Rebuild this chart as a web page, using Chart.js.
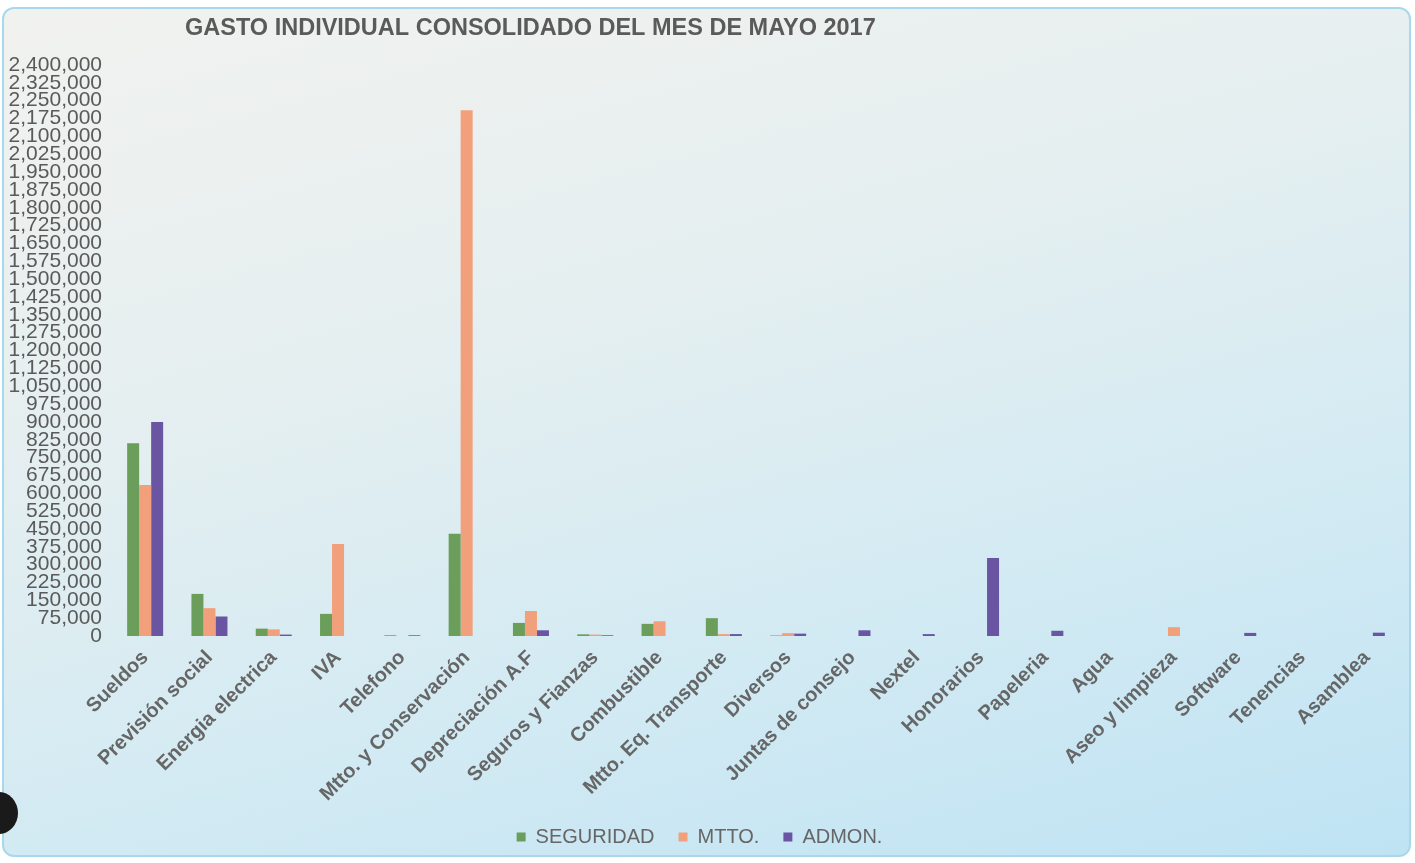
<!DOCTYPE html>
<html>
<head>
<meta charset="utf-8">
<script src="https://cdn.jsdelivr.net/npm/chart.js@4.4.1/dist/chart.umd.min.js"></script>
<style>
    html, body { margin: 0; padding: 0; background: #ffffff; }
    #wrap { position: relative; width: 1415px; height: 863px; overflow: hidden; }
    #card {
        position: absolute; left: 2px; top: 7px; width: 1405px; height: 846px;
        border: 2px solid #a8d8ec; border-radius: 12px;
        background: linear-gradient(165deg, #f1f2ef 0%, #e6eff0 35%, #d2eaf3 70%, #bfe3f3 100%);
    }
    #hole { position: absolute; left: -20px; top: 792px; width: 38px; height: 42px; border-radius: 50%; background: #1a1a1a; }
    #chart { position: absolute; left: 0; top: 0; }
</style>
</head>
<body>
<div id="wrap">
    <div id="card"></div>
    <div id="hole"></div>
    <canvas id="chart" width="1415" height="863"></canvas>
</div>
<script>
// ─── DATA ───────────────────────────────────────────────
const TITLE = 'GASTO INDIVIDUAL CONSOLIDADO DEL MES DE MAYO 2017';

const categories = [
    'Sueldos', 'Previsión social', 'Energia electrica', 'IVA', 'Telefono',
    'Mtto. y Conservación', 'Depreciación A.F', 'Seguros y Fianzas', 'Combustible',
    'Mtto. Eq. Transporte', 'Diversos', 'Juntas de consejo', 'Nextel', 'Honorarios',
    'Papeleria', 'Agua', 'Aseo y limpieza', 'Software', 'Tenencias', 'Asamblea'
];

const seguridad = [810000, 177000, 31000, 93000, 3000, 430000, 55000, 7000, 51000, 75000,
    2000, 0, 0, 0, 0, 0, 0, 0, 0, 0];
const mtto = [635000, 117000, 28000, 387000, 0, 2210000, 105000, 6000, 62000, 8000,
    12000, 0, 0, 0, 0, 0, 37000, 0, 0, 0];
const admon = [899000, 82000, 6000, 0, 3000, 0, 24000, 3000, 0, 8000,
    10000, 24000, 8000, 328000, 22000, 0, 0, 13000, 0, 14000];

const yMax = 2400000;
const yStep = 75000;

// ─── CHART ──────────────────────────────────────────────
const GREY = '#5a5a5a';

// title sits left of centre in the original, so draw it by hand
const titlePlugin = {
    id: 'leftTitle',
    afterDraw(chart) {
        const ctx = chart.ctx;
        ctx.save();
        ctx.font = 'bold 23.5px "Liberation Sans", Arial, sans-serif';
        ctx.fillStyle = GREY;
        ctx.textBaseline = 'middle';
        ctx.textAlign = 'left';
        ctx.fillText(TITLE, 185, 29);
        ctx.restore();
    }
};

new Chart(document.getElementById('chart'), {
    type: 'bar',
    data: {
        labels: categories,
        datasets: [
            { label: 'SEGURIDAD', data: seguridad, backgroundColor: '#6b9e5b' },
            { label: 'MTTO.', data: mtto, backgroundColor: '#f2a07b' },
            { label: 'ADMON.', data: admon, backgroundColor: '#6a55a3' }
        ]
    },
    options: {
        responsive: false,
        devicePixelRatio: 1,
        animation: false,
        categoryPercentage: 0.56,
        barPercentage: 1,
        layout: { padding: { top: 65, left: 0, right: 16, bottom: 6 } },
        plugins: {
            legend: {
                position: 'bottom',
                labels: {
                    boxWidth: 9,
                    boxHeight: 9,
                    padding: 24,
                    color: '#666',
                    font: { family: '"Liberation Sans", Arial, sans-serif', size: 20 }
                }
            },
            tooltip: { enabled: false }
        },
        scales: {
            x: {
                grid: { display: false, drawTicks: false },
                border: { display: false },
                ticks: {
                    color: '#666',
                    maxRotation: 45,
                    minRotation: 45,
                    autoSkip: false,
                    padding: 10,
                    font: { family: '"Liberation Sans", Arial, sans-serif', size: 20, weight: 'bold' }
                },
                afterFit: (scale) => { scale.height = 167; }
            },
            y: {
                min: 0,
                max: yMax,
                grid: { display: false, drawTicks: false },
                border: { display: false },
                ticks: {
                    stepSize: yStep,
                    autoSkip: false,
                    color: GREY,
                    padding: 11,
                    font: { family: '"Liberation Sans", Arial, sans-serif', size: 21, lineHeight: 1 },
                    callback: (v) => v.toLocaleString('en-US')
                },
                afterFit: (scale) => { scale.width = 113; }
            }
        }
    },
    plugins: [titlePlugin]
});
</script>
</body>
</html>
